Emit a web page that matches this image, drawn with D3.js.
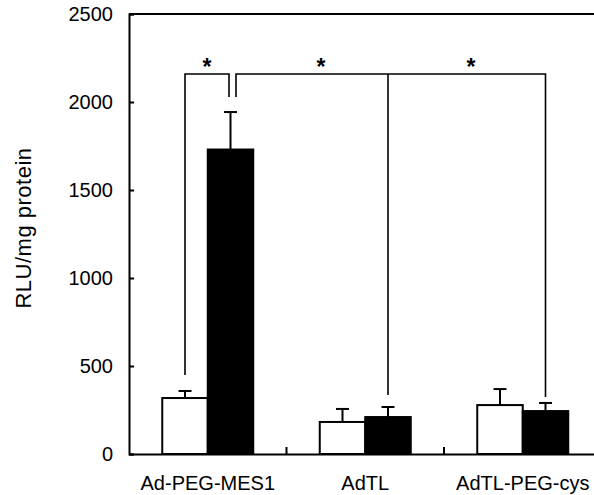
<!DOCTYPE html>
<html>
<head>
<meta charset="utf-8">
<script src="https://cdn.jsdelivr.net/npm/d3@7"></script>
<style>
  body { margin: 0; background: #fff; }
  svg text { font-family: "Liberation Sans", Arial, sans-serif; fill: #000; }
</style>
</head>
<body>
<svg id="chart" width="594" height="495"></svg>
<script>
// data
var categories = ["Ad-PEG-MES1", "AdTL", "AdTL-PEG-cys"];
var whiteVals = [318, 182, 278];
var whiteErr  = [40, 74, 91];
var blackVals = [1730, 210, 244];
var blackErr  = [213, 57, 46];
var yTicks = [0, 500, 1000, 1500, 2000, 2500];

var svg = d3.select("#chart");
var padL = 129, padT = 14, padB = 454, padR = 601.5;

var x = d3.scaleBand().domain(categories).range([padL, padR]).padding(0);
var y = d3.scaleLinear().domain([0, 2500]).range([padB, padT]);
var barW = 45.5;

var g = svg.append("g");

// bars (white then black per group)
function bars(vals, errs, fill, offset) {
  var sel = g.selectAll(null).data(categories).enter();
  var mid = function(d) { return x(d) + x.bandwidth() / 2 + offset + barW / 2; };
  // error bar stem and cap, the bar covers the lower part
  sel.append("line")
    .attr("x1", mid).attr("x2", mid)
    .attr("y1", function(d, i) { return y(vals[i]); })
    .attr("y2", function(d, i) { return y(vals[i] + errs[i]); })
    .attr("stroke", "#000").attr("stroke-width", 2);
  sel.append("line")
    .attr("x1", function(d) { return mid(d) - 6.5; })
    .attr("x2", function(d) { return mid(d) + 6.5; })
    .attr("y1", function(d, i) { return y(vals[i] + errs[i]); })
    .attr("y2", function(d, i) { return y(vals[i] + errs[i]); })
    .attr("stroke", "#000").attr("stroke-width", 2);
  sel.append("rect")
    .attr("x", function(d) { return x(d) + x.bandwidth() / 2 + offset; })
    .attr("y", function(d, i) { return y(vals[i]); })
    .attr("width", barW)
    .attr("height", function(d, i) { return y(0) - y(vals[i]); })
    .attr("fill", fill)
    .attr("stroke", "#000").attr("stroke-width", 2);
}
bars(whiteVals, whiteErr, "#fff", -barW);
bars(blackVals, blackErr, "#000", 0);

// frame: top line, left axis, bottom axis
svg.append("line").attr("x1", padL).attr("x2", 594).attr("y1", padT).attr("y2", padT)
  .attr("stroke", "#000").attr("stroke-width", 2);

var yAxis = d3.axisLeft(y).tickValues(yTicks).tickFormat(d3.format("d")).tickSize(-5).tickPadding(16);
svg.append("g").attr("transform", "translate(" + padL + ",0)").call(yAxis)
  .call(function(a) {
    a.select(".domain").attr("stroke-width", 2);
    a.selectAll(".tick line").attr("stroke-width", 2);
    a.selectAll("text").attr("font-size", 20).attr("fill", "#000")
      .attr("font-family", "Liberation Sans, Arial, sans-serif");
  });

var xAxis = d3.axisBottom(x).tickSize(0).tickPadding(22);
svg.append("g").attr("transform", "translate(0," + padB + ")").call(xAxis)
  .call(function(a) {
    a.select(".domain").attr("stroke-width", 2);
    a.selectAll("text").attr("font-size", 20).attr("fill", "#000")
      .attr("font-family", "Liberation Sans, Arial, sans-serif");
  });

// small inward ticks between groups
svg.selectAll(null).data(categories.slice(1)).enter().append("line")
  .attr("x1", function(d) { return x(d); }).attr("x2", function(d) { return x(d); })
  .attr("y1", padB).attr("y2", padB - 7)
  .attr("stroke", "#000").attr("stroke-width", 2);

svg.append("text")
  .attr("transform", "translate(31,228) rotate(-90)")
  .attr("text-anchor", "middle").attr("font-size", 22).attr("letter-spacing", 0.5)
  .text("RLU/mg protein");

// significance brackets
var bracketY = 74;
function cx(cat, side) { return x(cat) + x.bandwidth() / 2 + side * barW / 2; }
var brackets = [
  { x1: cx(categories[0], -1), y1: 375, x2: cx(categories[0], 1) - 1.5, y2: 97 },
  { x1: cx(categories[0], 1) + 5.5, y1: 97, x2: cx(categories[2], 1), y2: 397 }
];
var bg = svg.append("g").attr("fill", "none").attr("stroke", "#000").attr("stroke-width", 1.6);
brackets.forEach(function(b) {
  bg.append("path").attr("d", "M" + b.x1 + "," + b.y1 + "V" + bracketY + "H" + b.x2 + "V" + b.y2);
});
bg.append("line").attr("x1", cx(categories[1], 1)).attr("x2", cx(categories[1], 1))
  .attr("y1", bracketY).attr("y2", 395);

var starX = [207, 321, 471];
svg.selectAll(null).data(starX).enter().append("text")
  .attr("x", function(d) { return d; }).attr("y", 75)
  .attr("text-anchor", "middle").attr("font-size", 23).attr("font-weight", "bold")
  .text("*");
</script>
</body>
</html>
